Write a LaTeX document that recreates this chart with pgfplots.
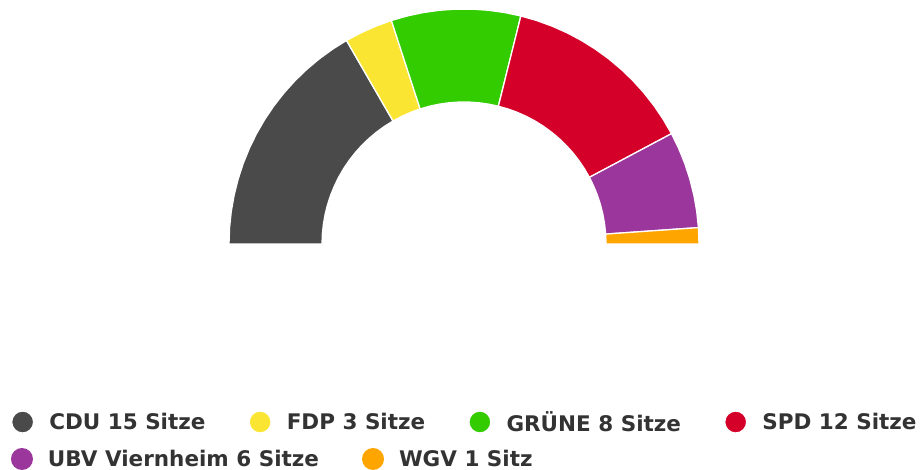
\documentclass[border=0pt]{standalone}
\usepackage{pgfplots}
\pgfplotsset{compat=1.18}
\usepackage{fontspec}
\setmainfont{DejaVu Sans}
\definecolor{cdu}{HTML}{4A4A4A}
\definecolor{fdp}{HTML}{FAE632}
\definecolor{gruene}{HTML}{33CC00}
\definecolor{spd}{HTML}{D4002A}
\definecolor{ubv}{HTML}{9B379C}
\definecolor{wgv}{HTML}{FFA500}
\definecolor{txt}{HTML}{333333}
\pgfplotsset{
  base/.style={
    x=1pt, y=1pt, scale only axis,
    xmin=-464, xmax=459, ymin=-226, ymax=244,
    hide axis, clip=false,
    legend columns=-1,
    legend image code/.code={\fill[##1] (11pt,0pt) circle (11pt);},
    legend style={draw=none, fill=none, inner sep=0pt, outer sep=0pt,
      font=\bfseries\fontsize{21.5}{25}\selectfont, text=txt,
      /tikz/every odd column/.append style={column sep=13pt},
      /tikz/every even column/.append style={column sep=41pt}},
  },
  sector/.style={data cs=polar, fill=#1, draw=white, line width=1.3pt, line join=round},
}
\begin{document}
\begin{tikzpicture}
\begin{axis}[base,
  legend style={at={(axis description cs:0.0119,0.1021)}, anchor=west}]
\path (axis cs:-464,-226) rectangle (axis cs:459,244);
% CDU 15 seats: 180 -> 120
\addplot[sector=cdu] coordinates {
 (180,235)(176,235)(172,235)(168,235)(164,235)(160,235)(156,235)(152,235)
 (148,235)(144,235)(140,235)(136,235)(132,235)(128,235)(124,235)(120,235)
 (120,142)(124,142)(128,142)(132,142)(136,142)(140,142)(144,142)(148,142)
 (152,142)(156,142)(160,142)(164,142)(168,142)(172,142)(176,142)(180,142)} --cycle;
% FDP 3 seats: 120 -> 108
\addplot[sector=fdp] coordinates {
 (120,235)(116,235)(112,235)(108,235)
 (108,142)(112,142)(116,142)(120,142)} --cycle;
% GRUENE 8 seats: 108 -> 76
\addplot[sector=gruene] coordinates {
 (108,235)(104,235)(100,235)(96,235)(92,235)(88,235)(84,235)(80,235)(76,235)
 (76,142)(80,142)(84,142)(88,142)(92,142)(96,142)(100,142)(104,142)(108,142)} --cycle;
% SPD 12 seats: 76 -> 28
\addplot[sector=spd] coordinates {
 (76,235)(72,235)(68,235)(64,235)(60,235)(56,235)(52,235)(48,235)(44,235)
 (40,235)(36,235)(32,235)(28,235)
 (28,142)(32,142)(36,142)(40,142)(44,142)(48,142)(52,142)(56,142)(60,142)
 (64,142)(68,142)(72,142)(76,142)} --cycle;
% UBV 6 seats: 28 -> 4
\addplot[sector=ubv, forget plot] coordinates {
 (28,235)(24,235)(20,235)(16,235)(12,235)(8,235)(4,235)
 (4,142)(8,142)(12,142)(16,142)(20,142)(24,142)(28,142)} --cycle;
% WGV 1 seat: 4 -> 0
\addplot[sector=wgv, forget plot] coordinates {
 (4,235)(0,235)(0,142)(4,142)} --cycle;
\legend{CDU 15 Sitze, FDP 3 Sitze, GRÜNE 8 Sitze, SPD 12 Sitze}
\end{axis}
\begin{axis}[base,
  legend style={at={(axis description cs:0.0119,0.0234)}, anchor=west}]
\addlegendimage{fill=ubv, draw=none}
\addlegendentry{UBV Viernheim 6 Sitze}
\addlegendimage{fill=wgv, draw=none}
\addlegendentry{WGV 1 Sitz}
\end{axis}
\end{tikzpicture}
\end{document}
